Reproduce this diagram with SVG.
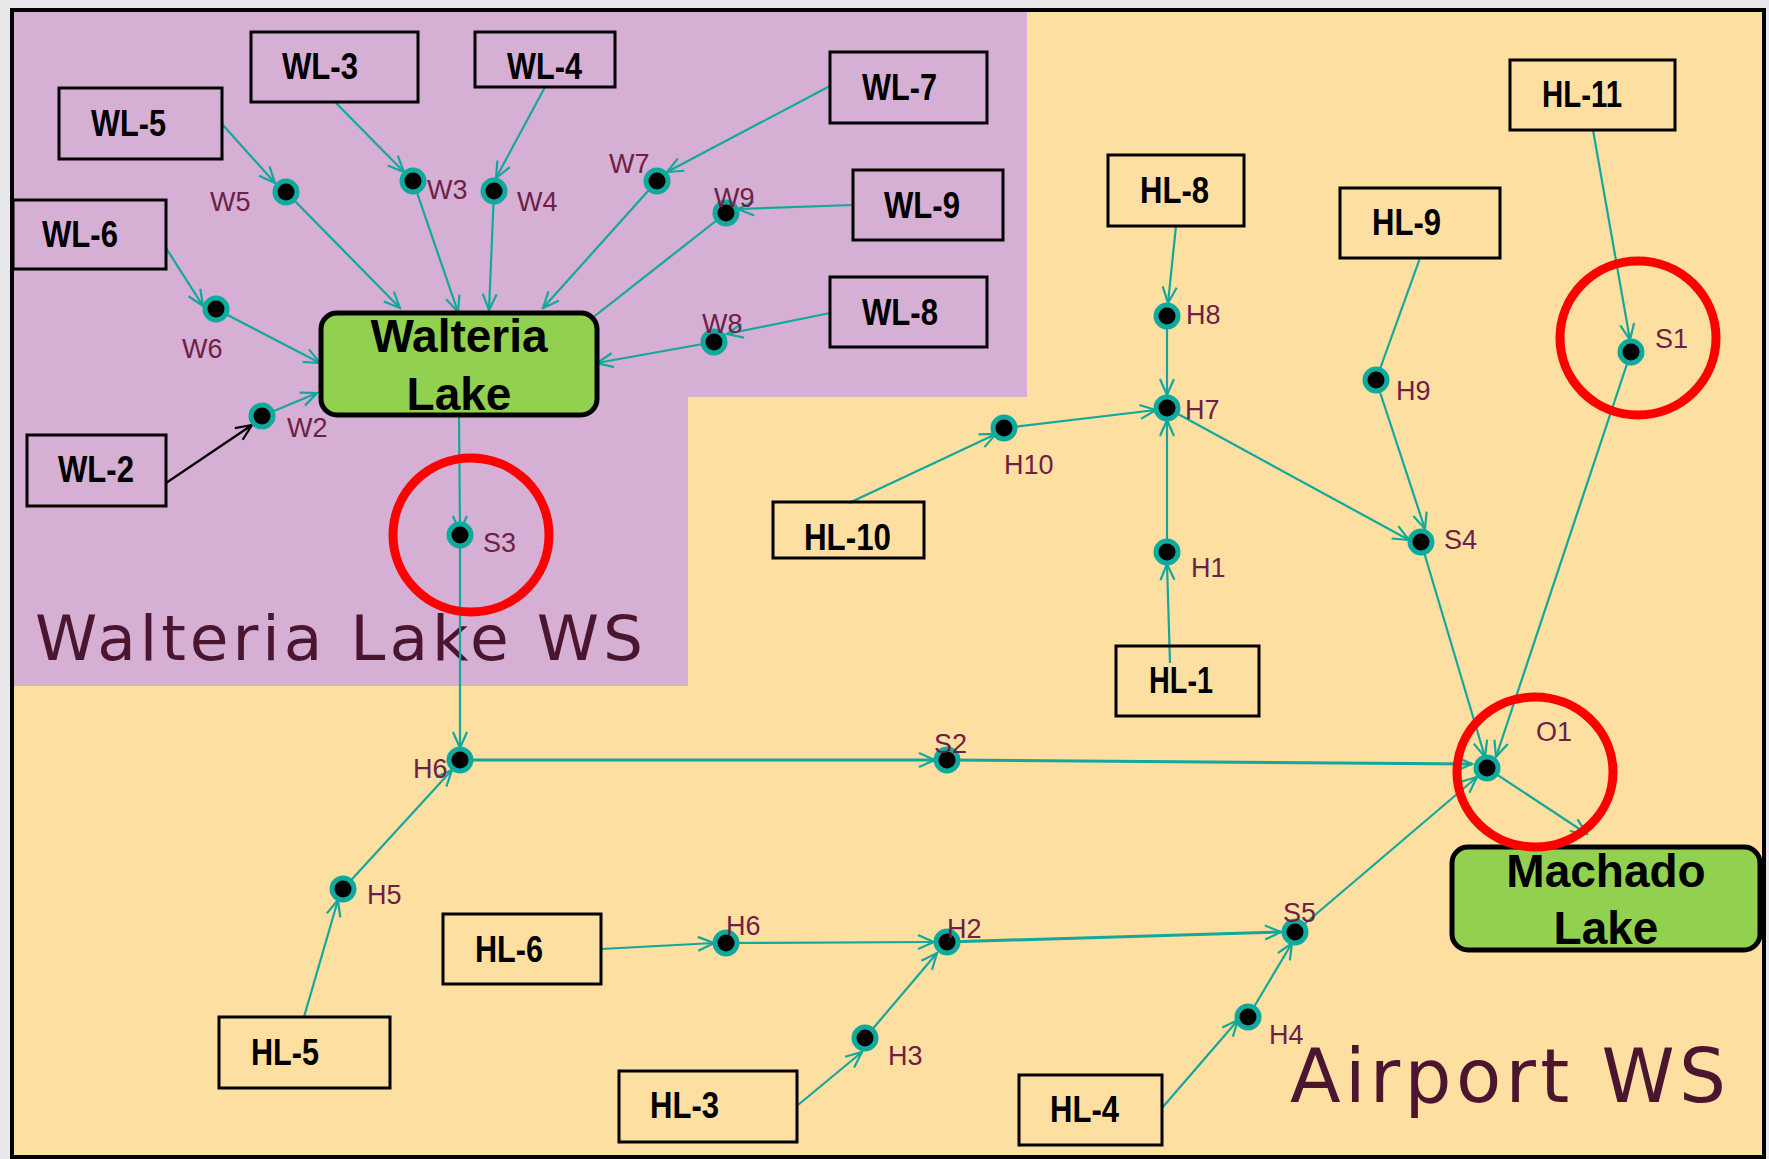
<svg xmlns="http://www.w3.org/2000/svg" width="1769" height="1159" viewBox="0 0 1769 1159">
  <defs>
    <style>
      .box { fill: none; stroke: #000; stroke-width: 3; }
      .lake { fill: #92D050; stroke: #000; stroke-width: 5; }
      .blabel { font-family: "Liberation Sans", Arial, sans-serif; font-weight: bold; font-size: 37px; fill: #000; }
      .lakelabel { font-family: "Liberation Sans", Arial, sans-serif; font-weight: bold; font-size: 46px; fill: #000; text-anchor: middle; }
      .nlabel { font-family: "Liberation Sans", Arial, sans-serif; font-size: 27px; fill: #6E2046; }
      .ws { font-family: "DejaVu Sans", "Liberation Sans", sans-serif; fill: #4B1530; }
      .node { fill: #000; stroke: #0DAA9D; stroke-width: 5; }
      .flow { stroke: #12A89C; stroke-width: 2.2; fill: none; marker-end: url(#arr); }
      .flow.main { stroke-width: 3; }
      .flow.plain { marker-end: none; }
      .flow.dark { stroke: #000; marker-end: url(#arrk); }
      .ring { fill: none; stroke: #FF0000; stroke-width: 9; }
    </style>
    <marker id="arr" markerUnits="userSpaceOnUse" markerWidth="20" markerHeight="20" viewBox="-18 -10 20 20" refX="0" refY="0" orient="auto">
      <path d="M-16,-7 L0,0 L-16,7" fill="none" stroke="#12A89C" stroke-width="2.2"/>
    </marker>
    <marker id="arrk" markerUnits="userSpaceOnUse" markerWidth="20" markerHeight="20" viewBox="-18 -10 20 20" refX="0" refY="0" orient="auto">
      <path d="M-16,-7 L0,0 L-16,7" fill="none" stroke="#000" stroke-width="2.2"/>
    </marker>
  </defs>

  <!-- page and frame -->
  <rect x="0" y="0" width="1769" height="1159" fill="#E8E8EA"/>
  <rect x="12" y="10" width="1752" height="1147" fill="#FDDFA2" stroke="#000" stroke-width="4"/>

  <!-- Walteria Lake watershed area -->
  <polygon points="14,12 1027,12 1027,397 688,397 688,686 14,686" fill="#D5AFD4"/>

  <!-- watershed titles -->
  <text class="ws" x="35" y="660" font-size="63" textLength="608" lengthAdjust="spacing">Walteria Lake WS</text>
  <text class="ws" x="1290" y="1102" font-size="74" textLength="436" lengthAdjust="spacing">Airport WS</text>

  <!-- connectors -->
  <g id="connectors">
    <path class="flow" d="M222,124 L275,183"/>
    <path class="flow" d="M286,192 L400,308"/>
    <path class="flow" d="M335,102 L404,172"/>
    <path class="flow" d="M413,181 L458,312"/>
    <path class="flow" d="M545,87 L496,178"/>
    <path class="flow" d="M494,191 L489,310"/>
    <path class="flow" d="M830,86 L667,172"/>
    <path class="flow" d="M657,181 L543,308"/>
    <path class="flow" d="M853,205 L738,209"/>
    <path class="flow" d="M726,213 L577,330"/>
    <path class="flow" d="M830,313 L727,334"/>
    <path class="flow" d="M714,342 L597,363"/>
    <path class="flow" d="M166,248 L203,306"/>
    <path class="flow" d="M216,309 L320,363"/>
    <path class="flow dark" d="M166,483 L252,425"/>
    <path class="flow" d="M262,416 L317,393"/>
    <path class="flow" d="M459,415 L460,532"/>
    <path class="flow" d="M460,535 L460,748"/>
    <path class="flow" d="M343,889 L452,770"/>
    <path class="flow" d="M304,1017 L338,900"/>
    <path class="flow main" d="M460,760 L935,760"/>
    <path class="flow main" d="M947,760 L1472,764"/>
    <path class="flow" d="M601,949 L714,943"/>
    <path class="flow" d="M726,943 L934,942"/>
    <path class="flow" d="M865,1038 L937,953"/>
    <path class="flow" d="M798,1105 L862,1052"/>
    <path class="flow main" d="M947,942 L1281,932"/>
    <path class="flow" d="M1248,1017 L1292,943"/>
    <path class="flow" d="M1162,1108 L1238,1020"/>
    <path class="flow" d="M1295,932 L1477,777"/>
    <path class="flow" d="M1487,768 L1587,834"/>
    <path class="flow" d="M1421,542 L1485,757"/>
    <path class="flow" d="M1631,352 L1496,757"/>
    <path class="flow" d="M1593,130 L1630,340"/>
    <path class="flow plain" d="M1420,258 L1376,380"/>
    <path class="flow" d="M1376,380 L1425,529"/>
    <path class="flow" d="M1167,408 L1409,540"/>
    <path class="flow" d="M1176,226 L1168,303"/>
    <path class="flow" d="M1167,316 L1167,395"/>
    <path class="flow" d="M1004,428 L1156,410"/>
    <path class="flow" d="M849,503 L996,434"/>
    <path class="flow" d="M1167,552 L1167,420"/>
    <path class="flow" d="M1170,663 L1167,564"/>
  </g>

  <!-- source boxes -->
  <g id="WL-3"><rect class="box" x="251" y="32" width="167" height="70"/><text class="blabel" x="282" y="79" textLength="76" lengthAdjust="spacingAndGlyphs">WL-3</text></g>
  <g id="WL-4"><rect class="box" x="475" y="32" width="140" height="55"/><text class="blabel" x="507" y="79" textLength="75" lengthAdjust="spacingAndGlyphs">WL-4</text></g>
  <g id="WL-5"><rect class="box" x="59" y="88" width="163" height="71"/><text class="blabel" x="91" y="136" textLength="75" lengthAdjust="spacingAndGlyphs">WL-5</text></g>
  <g id="WL-6"><rect class="box" x="13" y="200" width="153" height="69"/><text class="blabel" x="42" y="247" textLength="76" lengthAdjust="spacingAndGlyphs">WL-6</text></g>
  <g id="WL-7"><rect class="box" x="830" y="52" width="157" height="71"/><text class="blabel" x="862" y="100" textLength="75" lengthAdjust="spacingAndGlyphs">WL-7</text></g>
  <g id="WL-9"><rect class="box" x="853" y="170" width="150" height="70"/><text class="blabel" x="884" y="218" textLength="76" lengthAdjust="spacingAndGlyphs">WL-9</text></g>
  <g id="WL-8"><rect class="box" x="830" y="277" width="157" height="70"/><text class="blabel" x="862" y="325" textLength="76" lengthAdjust="spacingAndGlyphs">WL-8</text></g>
  <g id="WL-2"><rect class="box" x="27" y="435" width="139" height="71"/><text class="blabel" x="58" y="482" textLength="76" lengthAdjust="spacingAndGlyphs">WL-2</text></g>
  <g id="HL-8"><rect class="box" x="1108" y="155" width="136" height="71"/><text class="blabel" x="1140" y="203" textLength="69" lengthAdjust="spacingAndGlyphs">HL-8</text></g>
  <g id="HL-9"><rect class="box" x="1340" y="188" width="160" height="70"/><text class="blabel" x="1372" y="235" textLength="69" lengthAdjust="spacingAndGlyphs">HL-9</text></g>
  <g id="HL-11"><rect class="box" x="1510" y="60" width="165" height="70"/><text class="blabel" x="1542" y="107" textLength="80" lengthAdjust="spacingAndGlyphs">HL-11</text></g>
  <g id="HL-10"><rect class="box" x="773" y="502" width="151" height="56"/><text class="blabel" x="804" y="550" textLength="87" lengthAdjust="spacingAndGlyphs">HL-10</text></g>
  <g id="HL-1"><rect class="box" x="1116" y="646" width="143" height="70"/><text class="blabel" x="1149" y="693" textLength="64" lengthAdjust="spacingAndGlyphs">HL-1</text></g>
  <g id="HL-5"><rect class="box" x="219" y="1017" width="171" height="71"/><text class="blabel" x="251" y="1065" textLength="68" lengthAdjust="spacingAndGlyphs">HL-5</text></g>
  <g id="HL-6"><rect class="box" x="443" y="914" width="158" height="70"/><text class="blabel" x="475" y="962" textLength="68" lengthAdjust="spacingAndGlyphs">HL-6</text></g>
  <g id="HL-3"><rect class="box" x="619" y="1071" width="178" height="71"/><text class="blabel" x="650" y="1118" textLength="69" lengthAdjust="spacingAndGlyphs">HL-3</text></g>
  <g id="HL-4"><rect class="box" x="1019" y="1075" width="143" height="70"/><text class="blabel" x="1050" y="1122" textLength="69" lengthAdjust="spacingAndGlyphs">HL-4</text></g>

  <!-- lakes -->
  <g id="walteria-lake">
    <rect class="lake" x="321" y="313" width="276" height="102" rx="16"/>
    <text class="lakelabel" x="459" y="352">Walteria</text>
    <text class="lakelabel" x="459" y="410">Lake</text>
  </g>
  <g id="machado-lake">
    <rect class="lake" x="1452" y="847" width="308" height="103" rx="16"/>
    <text class="lakelabel" x="1606" y="887">Machado</text>
    <text class="lakelabel" x="1606" y="944">Lake</text>
  </g>

  <!-- junction nodes -->
  <g id="W5"><circle class="node" cx="286" cy="192" r="11"/><text class="nlabel" x="210" y="211">W5</text></g>
  <g id="W3"><circle class="node" cx="413" cy="181" r="11"/><text class="nlabel" x="427" y="199">W3</text></g>
  <g id="W4"><circle class="node" cx="494" cy="191" r="11"/><text class="nlabel" x="517" y="211">W4</text></g>
  <g id="W6"><circle class="node" cx="216" cy="309" r="11"/><text class="nlabel" x="182" y="358">W6</text></g>
  <g id="W2"><circle class="node" cx="262" cy="416" r="11"/><text class="nlabel" x="287" y="437">W2</text></g>
  <g id="W7"><circle class="node" cx="657" cy="181" r="11"/><text class="nlabel" x="609" y="173">W7</text></g>
  <g id="W9"><circle class="node" cx="726" cy="213" r="11"/><text class="nlabel" x="714" y="207">W9</text></g>
  <g id="W8"><circle class="node" cx="714" cy="342" r="11"/><text class="nlabel" x="702" y="333">W8</text></g>
  <g id="S3"><circle class="node" cx="460" cy="535" r="11"/><text class="nlabel" x="483" y="552">S3</text></g>
  <g id="H6a"><circle class="node" cx="460" cy="760" r="11"/><text class="nlabel" x="413" y="778">H6</text></g>
  <g id="S2"><circle class="node" cx="947" cy="760" r="11"/><text class="nlabel" x="934" y="753">S2</text></g>
  <g id="O1"><circle class="node" cx="1487" cy="768" r="11"/><text class="nlabel" x="1536" y="741">O1</text></g>
  <g id="H8"><circle class="node" cx="1167" cy="316" r="11"/><text class="nlabel" x="1186" y="324">H8</text></g>
  <g id="H7"><circle class="node" cx="1167" cy="408" r="11"/><text class="nlabel" x="1185" y="419">H7</text></g>
  <g id="H10"><circle class="node" cx="1004" cy="428" r="11"/><text class="nlabel" x="1004" y="474">H10</text></g>
  <g id="H1"><circle class="node" cx="1167" cy="552" r="11"/><text class="nlabel" x="1191" y="577">H1</text></g>
  <g id="H9"><circle class="node" cx="1376" cy="380" r="11"/><text class="nlabel" x="1396" y="400">H9</text></g>
  <g id="S4"><circle class="node" cx="1421" cy="542" r="11"/><text class="nlabel" x="1444" y="549">S4</text></g>
  <g id="S1"><circle class="node" cx="1631" cy="352" r="11"/><text class="nlabel" x="1655" y="348">S1</text></g>
  <g id="H5"><circle class="node" cx="343" cy="889" r="11"/><text class="nlabel" x="367" y="904">H5</text></g>
  <g id="H6b"><circle class="node" cx="726" cy="943" r="11"/><text class="nlabel" x="726" y="935">H6</text></g>
  <g id="H2"><circle class="node" cx="947" cy="942" r="11"/><text class="nlabel" x="947" y="938">H2</text></g>
  <g id="H3"><circle class="node" cx="865" cy="1038" r="11"/><text class="nlabel" x="888" y="1065">H3</text></g>
  <g id="S5"><circle class="node" cx="1295" cy="932" r="11"/><text class="nlabel" x="1283" y="922">S5</text></g>
  <g id="H4"><circle class="node" cx="1248" cy="1017" r="11"/><text class="nlabel" x="1269" y="1044">H4</text></g>

  <!-- highlight rings -->
  <ellipse class="ring" cx="471" cy="535" rx="78" ry="77"/>
  <ellipse class="ring" cx="1638" cy="338" rx="78" ry="77"/>
  <ellipse class="ring" cx="1535" cy="772" rx="78" ry="75"/>
</svg>
